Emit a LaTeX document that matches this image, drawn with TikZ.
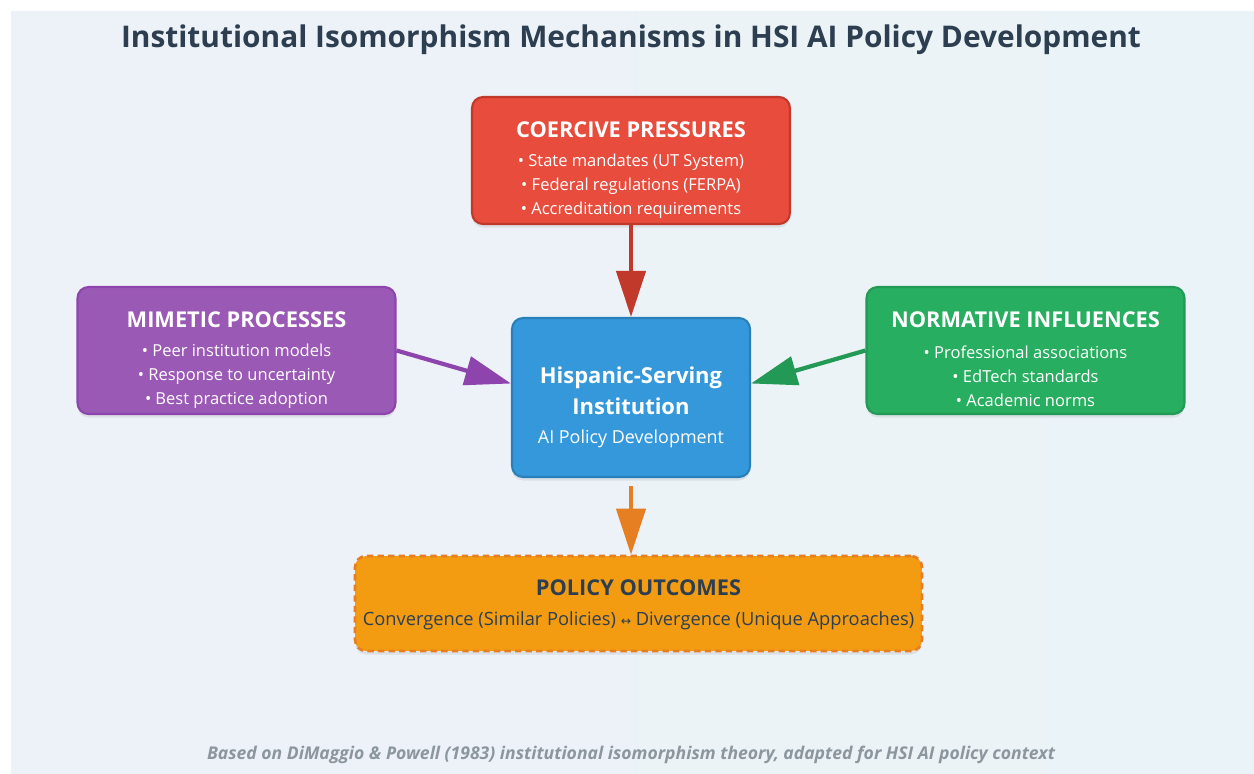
\documentclass[tikz,border=0pt]{standalone}
\usepackage{fontspec}
\setmainfont{Open Sans}
\newfontfamily\arrowfont{DejaVu Sans}
\usetikzlibrary{arrows.meta,positioning,shadows}

\definecolor{navy}{HTML}{2C3E50}
\definecolor{coerfill}{HTML}{E74C3C}
\definecolor{coerline}{HTML}{C0392B}
\definecolor{mimfill}{HTML}{9B59B6}
\definecolor{mimline}{HTML}{8E44AD}
\definecolor{normfill}{HTML}{27AE60}
\definecolor{normline}{HTML}{229954}
\definecolor{hsifill}{HTML}{3498DB}
\definecolor{hsiline}{HTML}{2980B9}
\definecolor{outfill}{HTML}{F39C12}
\definecolor{outdash}{HTML}{E67E22}
\definecolor{notegray}{HTML}{8C969D}
\definecolor{bgleft}{HTML}{EDF2F8}
\definecolor{bgmid}{HTML}{F4F1EF}
\definecolor{bgright}{HTML}{EAF3F7}

\tikzset{
    mechbox/.style={draw, line width=1.2pt, rounded corners=0.22cm,
        minimum width=6.36cm, minimum height=2.54cm,
        drop shadow={shadow xshift=0pt, shadow yshift=-2pt, opacity=0.15}},
    boxtitle/.style={text=white, font=\fontsize{12.4}{14}\selectfont\bfseries},
    boxlist/.style={text=white, align=center, font=\fontsize{9.4}{13.66}\selectfont},
    flow/.style={line width=2.4pt, -{Triangle[length=0.92cm, width=0.58cm]}},
}

\begin{document}
\begin{tikzpicture}[x=0.02cm, y=-0.02cm]
    \useasboundingbox (0,0) rectangle (1254,774);
    \fill[left color=bgleft, middle color=bgmid, right color=bgright] (11,11) rectangle (1254,774);

    \node [font=\fontsize{17}{20}\selectfont\bfseries, text=navy] (heading) at (631,40)
        {Institutional Isomorphism Mechanisms in HSI AI Policy Development};

    % the three pressures and the institution
    \node [mechbox, fill=coerfill, draw=coerline] (cp) at (631,160.5) {};
    \node [mechbox, fill=mimfill, draw=mimline] (mp) at (236.5,350.5) {};
    \node [mechbox, fill=normfill, draw=normline] (ni) at (1025.5,350.5) {};
    \node [mechbox, fill=hsifill, draw=hsiline, minimum width=4.76cm, minimum height=3.18cm] (hsi) at (631,397.5) {};
    \node [mechbox, fill=outfill, draw=outdash, dash pattern=on 3.6pt off 2.4pt, line width=1.5pt,
        minimum width=11.34cm, minimum height=1.9cm] (po) at (638.5,603.5) {};

    \node [boxtitle] (cptitle) at (631,130) {COERCIVE PRESSURES};
    \node [boxlist] (cplist) at (631,186) {• State mandates (UT System)\\• Federal regulations (FERPA)\\• Accreditation requirements};

    \node [boxtitle] (mptitle) at (236.5,320) {MIMETIC PROCESSES};
    \node [boxlist] (mplist) at (236.5,376) {• Peer institution models\\• Response to uncertainty\\• Best practice adoption};

    \node [boxtitle] (nititle) at (1025.5,320) {NORMATIVE INFLUENCES};
    \node [boxlist] (nilist) at (1025.5,376) {• Professional associations\\• EdTech standards\\• Academic norms};

    \node [boxtitle, align=center, font=\fontsize{12.5}{17.6}\selectfont\bfseries] (hsititle) at (631,391)
        {Hispanic-Serving\\Institution};
    \node [text=white, font=\fontsize{10.2}{12}\selectfont] (hsisub) at (631,439) {AI Policy Development};

    \node [boxtitle, text=navy] (potitle) at (638.5,588) {POLICY OUTCOMES};
    \node [text=navy, font=\fontsize{10.4}{12}\selectfont] (potext) at (638.5,621)
        {Convergence (Similar Policies) {\arrowfont\fontsize{7}{8}\selectfont ↔} Divergence (Unique Approaches)};

    \draw[flow, coerline] (cp) -- (hsi);
    \draw[flow, mimline] (mp.east) -- ([yshift=0.28cm]hsi.west);
    \draw[flow, normline] (ni.west) -- ([yshift=0.28cm]hsi.east);
    \draw[flow, outdash] ([yshift=-0.16cm]hsi.south) -- (hsi.south |- po.north);

    \node [text=notegray, font=\fontsize{10}{12}\selectfont\bfseries\itshape] (source) at (631,755)
        {Based on DiMaggio \& Powell (1983) institutional isomorphism theory, adapted for HSI AI policy context};
\end{tikzpicture}
\end{document}
